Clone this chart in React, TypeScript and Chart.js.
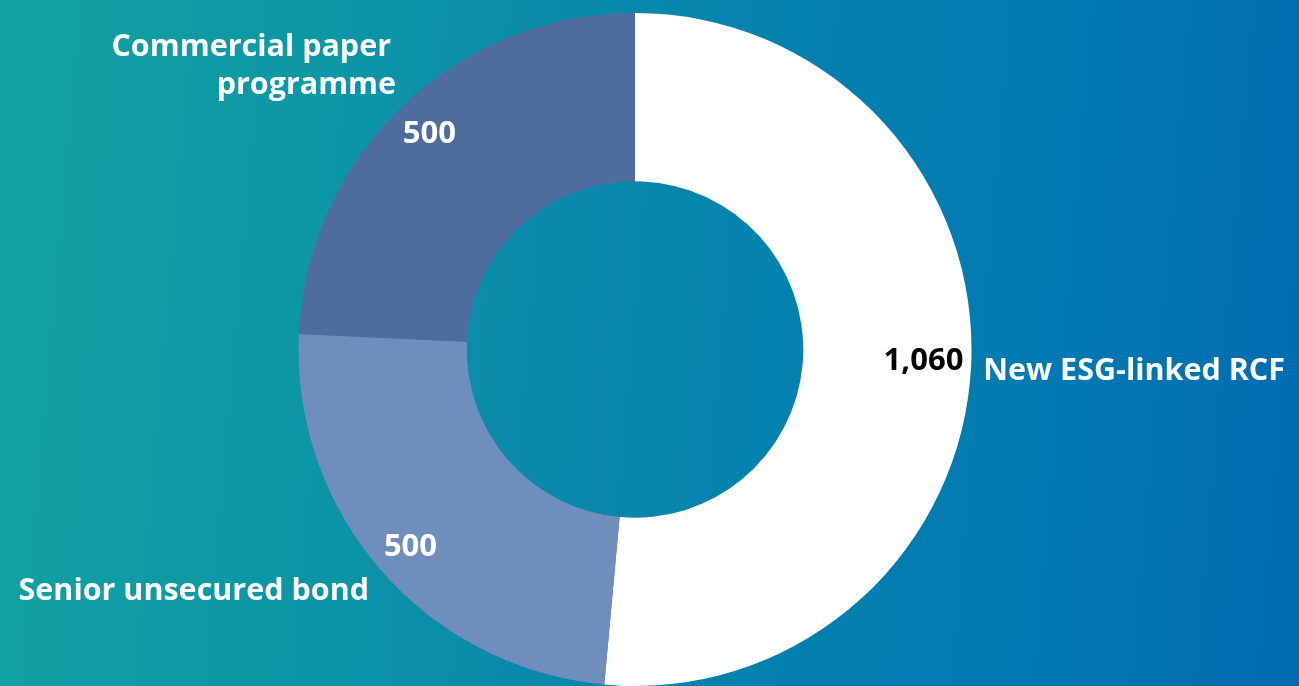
import React, { useEffect, useRef } from "react";
import { Chart, registerables } from "chart.js";

Chart.register(...registerables);

const categories = ["New ESG-linked RCF", "Senior unsecured bond", "Commercial paper programme"];
const values = [1060, 500, 500];
const valueLabels = ["1,060", "500", "500"];
const sliceColors = ["#ffffff", "#6f8ebb", "#4e6d9c"];
const valueColors = ["#000000", "#ffffff", "#ffffff"];

const FONT = "'Open Sans', Lato, sans-serif";

const labelsPlugin = {
  id: "sliceLabels",
  afterDatasetsDraw(chart: any) {
    const ctx = chart.ctx as CanvasRenderingContext2D;
    const meta = chart.getDatasetMeta(0);
    if (!meta || !meta.data.length) return;
    const a0 = meta.data[0] as any;
    const cx = a0.x;
    const cy = a0.y;
    const outer = a0.outerRadius;
    const inner = a0.innerRadius;
    ctx.save();
    ctx.font = `700 31px ${FONT}`;
    ctx.textBaseline = "middle";
    ctx.textAlign = "center";
    meta.data.forEach((arc: any, i: number) => {
      const mid = (arc.startAngle + arc.endAngle) / 2;
      const r = inner + (outer - inner) * 0.77;
      let x = cx + Math.cos(mid) * r;
      let y = cy + Math.sin(mid) * r;
      if (i === 0) { x -= 9; y -= 2; }
      if (i === 1) y += 2;
      ctx.fillStyle = valueColors[i];
      ctx.fillText(valueLabels[i], x, y);
    });
    ctx.font = `700 30.5px ${FONT}`;
    ctx.fillStyle = "#ffffff";
    // category labels placed around the ring
    ctx.textAlign = "left";
    ctx.fillText(categories[0], cx + outer * 1.035, cy + outer * 0.065);
    ctx.fillText(categories[1], cx - outer * 1.832, cy + outer * 0.72);
    ctx.textAlign = "right";
    const words = categories[2].split(" ");
    ctx.fillText(words.slice(0, 2).join(" "), cx - outer * 0.725, cy - outer * 0.898);
    ctx.fillText(words.slice(2).join(" "), cx - outer * 0.71, cy - outer * 0.785);
    ctx.restore();
  },
};

export default function App() {
  const ref = useRef<HTMLCanvasElement | null>(null);
  useEffect(() => {
    document.body.style.margin = "0";
    if (!ref.current) return;
    const chart = new Chart(ref.current, {
      type: "doughnut",
      data: {
        labels: categories,
        datasets: [
          {
            data: values,
            backgroundColor: sliceColors,
            borderWidth: 0,
          },
        ],
      },
      options: {
        responsive: false,
        animation: false,
        cutout: "50%",
        layout: { padding: { top: 13, bottom: 0, left: 0, right: 29 } },
        plugins: {
          legend: { display: false },
          tooltip: { enabled: false },
        },
      },
      plugins: [labelsPlugin],
    });
    return () => chart.destroy();
  }, []);
  return (
    <div
      style={{
        width: 1299,
        height: 686,
        overflow: "hidden",
        background:
          "linear-gradient(95deg, #12a2a2 0%, #0c96a6 25%, #0a8aaa 42%, #0380af 62%, #0279b2 80%, #006bb0 100%)",
      }}
    >
      <canvas ref={ref} width={1299} height={686} style={{ display: "block" }} />
    </div>
  );
}
